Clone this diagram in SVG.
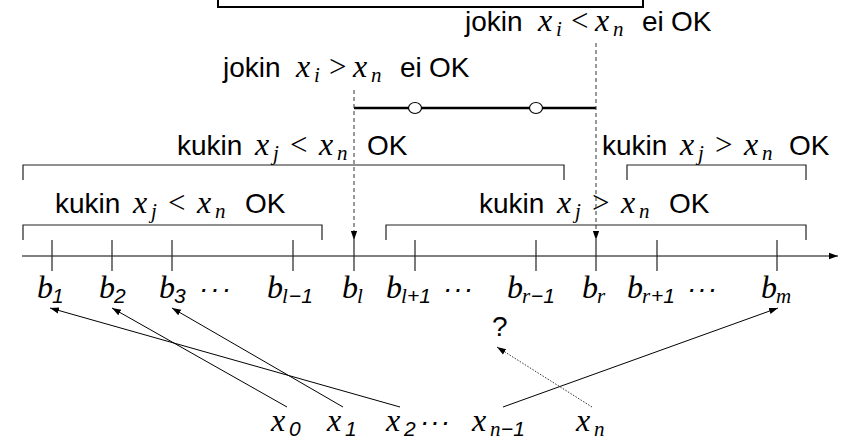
<svg xmlns="http://www.w3.org/2000/svg" width="848" height="441" viewBox="0 0 848 441">
<defs>
<style>
.t{font-family:"Liberation Sans",Arial,sans-serif;font-size:28px;fill:#000}
.m{font-family:"Liberation Serif","Times New Roman",serif;font-style:italic;font-size:32px}
.r{font-family:"Liberation Serif","Times New Roman",serif;font-style:normal;font-size:31px}
.si{font-family:"Liberation Serif","Times New Roman",serif;font-style:italic;font-size:21px}
.sd{font-family:"Liberation Sans",Arial,sans-serif;font-size:21px}
.ln{stroke:#000;stroke-width:1;fill:none}
.br{stroke:#222;stroke-width:1.2;fill:none}
.tk{stroke:#222;stroke-width:1.2}
.da{stroke:#333;stroke-width:1;stroke-dasharray:4 3;fill:none}
.dot{stroke:#333;stroke-width:1;stroke-dasharray:1.5 1.5;fill:none}
</style>
<marker id="ah" viewBox="0 0 10 10" refX="10" refY="5" markerWidth="9" markerHeight="9" markerUnits="userSpaceOnUse" orient="auto">
<path d="M0,1.5 L10,5 L0,8.5 z" fill="#000"/>
</marker>
</defs>
<rect x="218" y="-10" width="425" height="17" fill="none" stroke="#000" stroke-width="2"/>

<g id="axis">
<line class="ln" x1="22" y1="256" x2="838" y2="256" marker-end="url(#ah)"/>
<g class="tk">
<line x1="52" y1="240" x2="52" y2="271"/>
<line x1="112" y1="240" x2="112" y2="271"/>
<line x1="172" y1="240" x2="172" y2="271"/>
<line x1="293" y1="240" x2="293" y2="271"/>
<line x1="354" y1="240" x2="354" y2="271"/>
<line x1="415" y1="240" x2="415" y2="271"/>
<line x1="536" y1="240" x2="536" y2="271"/>
<line x1="596" y1="240" x2="596" y2="271"/>
<line x1="657" y1="240" x2="657" y2="271"/>
<line x1="777" y1="240" x2="777" y2="271"/>
</g>
</g>

<g id="brackets">
<path class="br" d="M23,240 V225 H322 V240"/>
<path class="br" d="M386,240 V225 H806 V240"/>
<path class="br" d="M23,180 V165 H564 V180"/>
<path class="br" d="M627,180 V165 H806 V180"/>
</g>

<g id="interval">
<line x1="354" y1="108" x2="596" y2="108" stroke="#000" stroke-width="2.5"/>
<ellipse cx="415" cy="108" rx="6.5" ry="5.5" fill="#fff" stroke="#000" stroke-width="1.2"/>
<ellipse cx="536" cy="108" rx="6.5" ry="5.5" fill="#fff" stroke="#000" stroke-width="1.2"/>
</g>

<g id="labels-top">
<text class="t" y="77"><tspan x="223">jokin</tspan><tspan class="m" x="296">x</tspan><tspan class="si" x="314" y="82">i</tspan><tspan class="r" x="329" y="77">&gt;</tspan><tspan class="m" x="353">x</tspan><tspan class="si" x="371" y="82">n</tspan><tspan x="400" y="77">ei</tspan><tspan x="429">OK</tspan></text>
<text class="t" y="31"><tspan x="465">jokin</tspan><tspan class="m" x="538">x</tspan><tspan class="si" x="556" y="36">i</tspan><tspan class="r" x="571" y="31">&lt;</tspan><tspan class="m" x="595">x</tspan><tspan class="si" x="613" y="36">n</tspan><tspan x="642" y="31">ei</tspan><tspan x="671">OK</tspan></text>
</g>

<g id="labels-ok">
<text class="t" y="155"><tspan x="177">kukin</tspan><tspan class="m" x="255">x</tspan><tspan class="si" x="273" y="160">j</tspan><tspan class="r" x="290" y="155">&lt;</tspan><tspan class="m" x="319">x</tspan><tspan class="si" x="337" y="160">n</tspan><tspan x="367" y="155">OK</tspan></text>
<text class="t" y="155"><tspan x="602">kukin</tspan><tspan class="m" x="680">x</tspan><tspan class="si" x="698" y="160">j</tspan><tspan class="r" x="715" y="155">&gt;</tspan><tspan class="m" x="744">x</tspan><tspan class="si" x="762" y="160">n</tspan><tspan x="789" y="155">OK</tspan></text>
<text class="t" y="213"><tspan x="55">kukin</tspan><tspan class="m" x="133">x</tspan><tspan class="si" x="151" y="218">j</tspan><tspan class="r" x="168" y="213">&lt;</tspan><tspan class="m" x="197">x</tspan><tspan class="si" x="215" y="218">n</tspan><tspan x="245" y="213">OK</tspan></text>
<text class="t" y="213"><tspan x="479">kukin</tspan><tspan class="m" x="557">x</tspan><tspan class="si" x="575" y="218">j</tspan><tspan class="r" x="592" y="213">&gt;</tspan><tspan class="m" x="621">x</tspan><tspan class="si" x="639" y="218">n</tspan><tspan x="669" y="213">OK</tspan></text>
</g>

<g id="labels-b">
<text class="m" y="298"><tspan x="37">b</tspan><tspan class="sd" x="52" y="303">1</tspan></text>
<text class="m" y="298"><tspan x="99">b</tspan><tspan class="sd" x="114" y="303">2</tspan></text>
<text class="m" y="298"><tspan x="159">b</tspan><tspan class="sd" x="174" y="303">3</tspan><tspan class="t" x="199" y="298" letter-spacing="2">···</tspan></text>
<text class="m" y="298"><tspan x="267">b</tspan><tspan class="si" x="282" y="303">l</tspan><tspan class="sd" x="289">−1</tspan></text>
<text class="m" y="298"><tspan x="342">b</tspan><tspan class="si" x="357" y="303">l</tspan></text>
<text class="m" y="298"><tspan x="386">b</tspan><tspan class="si" x="401" y="303">l</tspan><tspan class="sd" x="407">+1</tspan><tspan class="t" x="443" y="298" letter-spacing="1">···</tspan></text>
<text class="m" y="298"><tspan x="507">b</tspan><tspan class="si" x="522" y="303">r</tspan><tspan class="sd" x="531">−1</tspan></text>
<text class="m" y="298"><tspan x="582">b</tspan><tspan class="si" x="597" y="303">r</tspan></text>
<text class="m" y="298"><tspan x="627">b</tspan><tspan class="si" x="642" y="303">r</tspan><tspan class="sd" x="651">+1</tspan><tspan class="t" x="687" y="298" letter-spacing="1">···</tspan></text>
<text class="m" y="298"><tspan x="761">b</tspan><tspan class="si" x="776" y="303">m</tspan></text>
</g>

<g id="labels-x">
<text class="m" y="431"><tspan x="271">x</tspan><tspan class="sd" x="289" y="436">0</tspan></text>
<text class="m" y="431"><tspan x="327">x</tspan><tspan class="sd" x="345" y="436">1</tspan></text>
<text class="m" y="431"><tspan x="386">x</tspan><tspan class="sd" x="404" y="436">2</tspan><tspan class="t" x="420" y="431" letter-spacing="1">···</tspan></text>
<text class="m" y="431"><tspan x="472">x</tspan><tspan class="si" x="490" y="436">n</tspan><tspan class="sd" x="501">−1</tspan></text>
<text class="m" y="431"><tspan x="576">x</tspan><tspan class="si" x="594" y="436">n</tspan></text>
<text class="t" x="492" y="336">?</text>
</g>

<g id="connectors">
<line class="da" x1="354" y1="90" x2="354" y2="240" marker-end="url(#ah)"/>
<line class="da" x1="596" y1="43" x2="596" y2="240" marker-end="url(#ah)"/>
<line class="ln" x1="287" y1="407" x2="112" y2="308" marker-end="url(#ah)"/>
<line class="ln" x1="343" y1="407" x2="172" y2="308" marker-end="url(#ah)"/>
<line class="ln" x1="400" y1="407" x2="50" y2="308" marker-end="url(#ah)"/>
<line class="ln" x1="503" y1="407" x2="778" y2="308" marker-end="url(#ah)"/>
<line class="dot" x1="592" y1="407" x2="497" y2="347" marker-end="url(#ah)"/>
</g>
</svg>
